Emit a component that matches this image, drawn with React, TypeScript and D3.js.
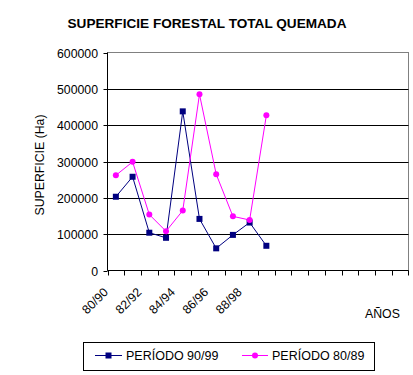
import React from "react";
import * as d3 from "d3";

const categories = ["80/90","81/91","82/92","83/93","84/94","85/95","86/96","87/97","88/98","89/99","c10","c11","c12","c13","c14","c15","c16","c17"];
const tickLabels = ["80/90","","82/92","","84/94","","86/96","","88/98","","","","","","","","",""];
const periodo9099 = [203000, 258000, 104000, 90000, 438000, 142000, 61000, 98000, 132000, 68000];
const periodo8089 = [262000, 299000, 154000, 108000, 165000, 485000, 265000, 149000, 139000, 427000];
const yTicks = [0, 100000, 200000, 300000, 400000, 500000, 600000];

const FONT = "Liberation Sans, Arial, sans-serif";
const NAVY = "#000080";
const MAG = "#FF00FF";

export default function App() {
  const W = 413, H = 375;
  const left = 107.5, right = 408.5, top = 52.5, bottom = 270.5;
  const x = d3.scaleBand<string>().domain(categories).range([left, right]).padding(0);
  const y = d3.scaleLinear().domain([0, 600000]).range([bottom, top]);
  const cx = (i: number) => (x(categories[i]) as number) + x.bandwidth() / 2;
  const line = d3.line<number>().x((_, i) => cx(i)).y((d) => y(d));

  return (
    <svg width={W} height={H} style={{ position: "absolute", left: 0, top: 0, background: "#fff" }} fontFamily={FONT}>
      <rect x={0} y={0} width={W} height={H} fill="#fff" />
      <text x={207} y={28} textAnchor="middle" fontSize={13.6} fontWeight="bold">SUPERFICIE FORESTAL TOTAL QUEMADA</text>
      {/* plot frame */}
      <rect x={left} y={top} width={right - left} height={bottom - top} fill="none" stroke="#808080" strokeWidth={1} />
      {yTicks.map((t) => (
        <g key={t}>
          {t > 0 && t < 600000 && <line x1={left} x2={right} y1={Math.round(y(t)) + 0.5} y2={Math.round(y(t)) + 0.5} stroke="#000" />}
          <line x1={left - 4} x2={left} y1={Math.round(y(t)) + 0.5} y2={Math.round(y(t)) + 0.5} stroke="#000" />
          <text x={98} y={Math.round(y(t)) + 4.5} textAnchor="end" fontSize={12.3}>{t}</text>
        </g>
      ))}
      <line x1={left} x2={left} y1={top} y2={bottom} stroke="#000" />
      <line x1={left} x2={right} y1={bottom} y2={bottom} stroke="#000" />
      {categories.map((c, i) => {
        const xx = Math.round(x(c) as number) + 0.5;
        return <line key={c} x1={xx} x2={xx} y1={bottom} y2={bottom + 5} stroke="#000" />;
      })}
      <line x1={right} x2={right} y1={bottom} y2={bottom + 5} stroke="#000" />
      {tickLabels.map((l, i) => l ? (
        <text key={i} transform={`translate(${cx(i) - 7},${293}) rotate(-45)`} textAnchor="end" fontSize={12.3}>{l}</text>
      ) : null)}
      <text transform={`translate(44,165) rotate(-90)`} textAnchor="middle" fontSize={12.3}>SUPERFICIE (Ha)</text>
      <text x={365} y={318} fontSize={12.3}>AÑOS</text>

      <path d={line(periodo9099) || ""} fill="none" stroke={NAVY} strokeWidth={1} />
      <path d={line(periodo8089) || ""} fill="none" stroke={MAG} strokeWidth={1} />
      {periodo9099.map((v, i) => (
        <rect key={i} x={cx(i) - 3} y={y(v) - 3} width={6} height={6} fill={NAVY} />
      ))}
      {periodo8089.map((v, i) => (
        <circle key={i} cx={cx(i)} cy={y(v)} r={3} fill={MAG} />
      ))}

      {/* legend */}
      <rect x={83.5} y={342.5} width={291} height={28} fill="#fff" stroke="#000" />
      <line x1={95} x2={122} y1={355.5} y2={355.5} stroke={NAVY} />
      <rect x={105.5} y={352.5} width={6} height={6} fill={NAVY} />
      <text x={126} y={360} fontSize={12.5}>PERÍODO 90/99</text>
      <line x1={242} x2={268} y1={355.5} y2={355.5} stroke={MAG} />
      <circle cx={255} cy={355.5} r={3} fill={MAG} />
      <text x={272} y={360} fontSize={12.5}>PERÍODO 80/89</text>
    </svg>
  );
}
